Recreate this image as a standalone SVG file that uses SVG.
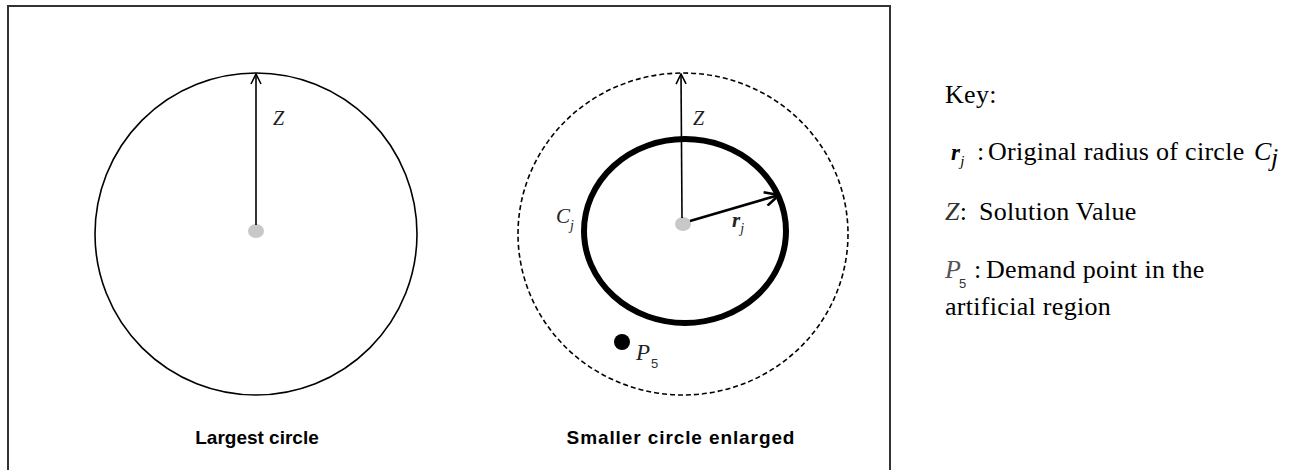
<svg xmlns="http://www.w3.org/2000/svg" width="1301" height="470" viewBox="0 0 1301 470">
<style>
.frame{fill:none;stroke:#333;stroke-width:2}
.thin{fill:none;stroke:#000;stroke-width:1.6}
.dash{fill:none;stroke:#000;stroke-width:1.6;stroke-dasharray:5 3}
.thick{fill:none;stroke:#000;stroke-width:6}
.ctr{fill:#c8c8c8}
.math{font-family:"Liberation Serif",serif;font-style:italic;fill:#222}
.cap{font-family:"Liberation Sans",Arial,sans-serif;font-weight:bold;font-size:19px;fill:#000;text-anchor:middle}
.key{font-family:"Liberation Serif","Times New Roman",serif;font-size:26px;letter-spacing:0.3px;fill:#000}
.sub5{font-family:"Liberation Sans",Arial,sans-serif;font-size:13px}
</style>
<defs>
<marker id="open" viewBox="0 0 12 12" refX="11" refY="6" markerWidth="12" markerHeight="12" markerUnits="userSpaceOnUse" orient="auto">
<path d="M1,1 L11,6 L1,11" fill="none" stroke="#000" stroke-width="1.6"/>
</marker>
<marker id="openb" viewBox="0 0 16 16" refX="15" refY="8" markerWidth="16" markerHeight="16" markerUnits="userSpaceOnUse" orient="auto">
<path d="M1,1 L15,8 L1,15" fill="none" stroke="#000" stroke-width="2.6"/>
</marker>
</defs>
<rect x="8" y="6" width="882" height="480" class="frame"/>
<g id="largest-circle">
<circle cx="256" cy="234" r="161" class="thin"/>
<ellipse cx="256" cy="231" rx="8" ry="7" class="ctr"/>
<text x="273" y="125" class="math" font-size="20">Z</text>
<text x="257" y="444" class="cap">Largest circle</text>
</g>
<g id="enlarged-circle">
<ellipse cx="683" cy="234" rx="165" ry="161" class="dash"/>
<ellipse cx="685" cy="231" rx="101" ry="92" class="thick"/>
<ellipse cx="683" cy="224" rx="8" ry="7" class="ctr"/>
<text x="693" y="125" class="math" font-size="20">Z</text>
<text x="556" y="223" class="math" font-size="21">C<tspan font-size="14" dy="7">j</tspan></text>
<text x="732" y="227" class="math" font-size="21" font-weight="bold" fill="#111">r<tspan font-size="14" font-weight="normal" dy="6">j</tspan></text>
<text x="681" y="444" class="cap" letter-spacing="0.9">Smaller circle enlarged</text>
</g>
<g id="p5">
<circle cx="622" cy="342" r="8" fill="#000"/>
<text x="636" y="360" class="math" font-size="23" fill="#444">P</text>
<text x="651" y="368" class="sub5" fill="#333">5</text>
</g>
<g id="connectors">
<line x1="256" y1="225" x2="256" y2="74" class="thin" marker-end="url(#open)"/>
<line x1="682" y1="218" x2="681" y2="74" class="thin" marker-end="url(#open)"/>
<line x1="690" y1="221" x2="779" y2="195" fill="none" stroke="#000" stroke-width="2.6" marker-end="url(#openb)"/>
</g>
<g id="key">
<text x="945" y="103" class="key">Key:</text>
<text x="951" y="160" class="key"><tspan font-weight="bold" font-style="italic" font-size="23">r</tspan><tspan font-style="italic" font-size="15" dy="6">j</tspan></text>
<text x="977" y="160" class="key">:</text>
<text x="988" y="160" class="key">Original radius of circle</text>
<text x="1254" y="160" class="key" font-style="italic" fill="#333" font-size="22">C</text>
<text x="1271" y="166" class="key" font-style="italic" fill="#333" font-size="15">j</text>
<text x="945" y="220" class="key"><tspan font-style="italic" fill="#333">Z</tspan>:</text>
<text x="979" y="220" class="key">Solution Value</text>
<text x="945" y="278" class="key"><tspan font-style="italic" fill="#555">P</tspan></text>
<text x="959" y="288" class="sub5" fill="#333">5</text>
<text x="974" y="278" class="key">:</text>
<text x="986" y="278" class="key">Demand point in the</text>
<text x="945" y="315" class="key">artificial region</text>
</g>
</svg>
